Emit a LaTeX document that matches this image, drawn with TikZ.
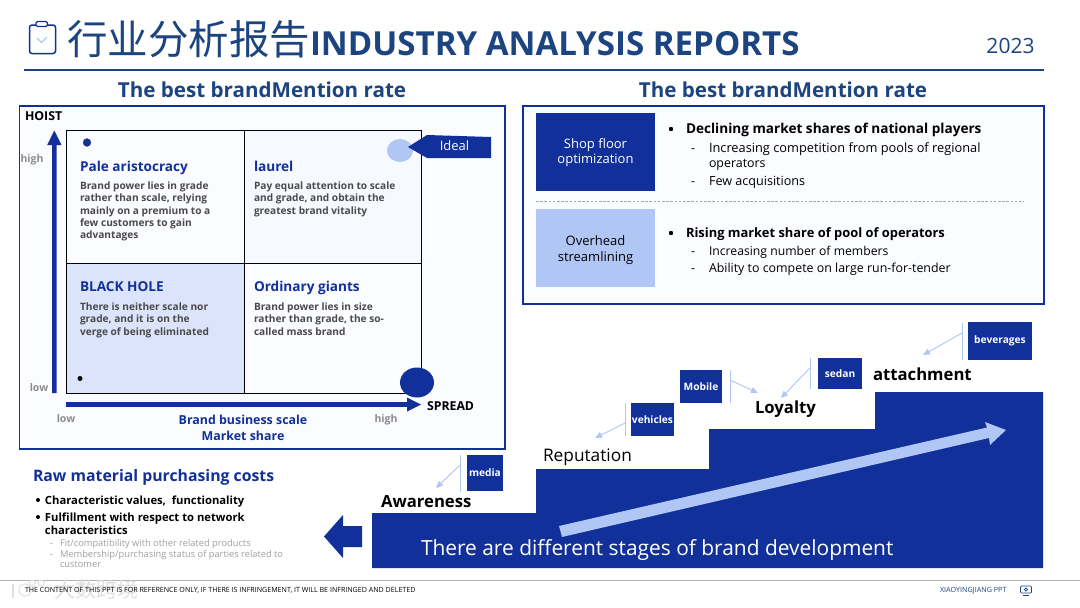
\documentclass[tikz,border=0pt]{standalone}
\usepackage{fontspec}
\setmainfont{Open Sans}
\newfontfamily\cjkfont{Noto Sans CJK SC}
\usetikzlibrary{arrows.meta}
\definecolor{navy}{HTML}{11309A}
\definecolor{titleblue}{HTML}{1C4480}
\definecolor{lightblue}{HTML}{B0C6F5}
\definecolor{panelbg}{HTML}{FBFCFF}
\definecolor{qlow}{HTML}{DCE4FB}
\definecolor{qhigh}{HTML}{F6F9FF}
\definecolor{bodygray}{HTML}{4A4A4A}
\definecolor{axisgray}{HTML}{8C8C8C}
\definecolor{subgray}{HTML}{A0A0A0}
\newcommand\fz[2]{\fontsize{#1}{#2}\selectfont}
\tikzset{
  x=1pt,y=-1pt,
  txt/.style={inner sep=0pt,outer sep=0pt,anchor=base west,align=left},
  ctr/.style={inner sep=0pt,outer sep=0pt,anchor=base,align=center},
  panel/.style={draw=navy,line width=1.8pt,fill=panelbg},
  section/.style={ctr,font=\fz{20.6}{26}\bfseries,text=titleblue},
  qtitle/.style={txt,font=\fz{13.6}{17}\bfseries,text=navy},
  qbody/.style={txt,font=\fz{10.15}{12.25}\bfseries,text=bodygray},
  axislab/.style={ctr,font=\fz{10.5}{13}\bfseries,text=axisgray},
  blacklab/.style={txt,font=\fz{12.3}{14}\bfseries,text=black},
  bigbul/.style={txt,font=\fz{13.2}{16}\bfseries,text=black},
  subbul/.style={txt,font=\fz{12.4}{15},text=black},
  stage/.style={txt,font=\fz{16.7}{21}\bfseries,text=black},
  tag/.style={inner sep=0pt,anchor=center,fill=navy,text=white,font=\fz{10.2}{13}\bfseries},
  leader/.style={draw=lightblue,line width=0.9pt},
  pointer/.style={draw=lightblue,line width=0.9pt,-{Triangle[length=7pt,width=6pt]}},
}
\begin{document}
\begin{tikzpicture}
\useasboundingbox (0,0) rectangle (1080,608);
\fill[white] (0,0) rectangle (1080,608);

% header
\draw[navy,line width=1.5pt,rounded corners=2.5pt] (29.5,25) rectangle (55.5,53.5);
\draw[navy,line width=1.4pt,fill=white,rounded corners=1.5pt] (36,21.5) rectangle (47.5,26.5);
\draw[lightblue,line width=1.1pt] (37,38) -- (41.5,42.5) -- (47,37);
\node[txt,font=\cjkfont\fz{40.5}{44},text=titleblue] (titlecn) at (67,54) {行业分析报告};
\node[txt,font=\fz{33.1}{38}\bfseries,text=titleblue] (titleen) at (310,55) {INDUSTRY ANALYSIS REPORTS};
\node[ctr,font=\fz{21}{25},text=titleblue] (year) at (1010.5,53) {2023};
\draw[titleblue,line width=2.4pt] (24,70) -- (1044,70);

\node[section] (secl) at (262,97) {The best brandMention rate};
\node[section] (secr) at (783,97) {The best brandMention rate};

% left panel
\draw[panel] (19.5,106) rectangle (505,449);
\fill[qlow] (66,263) rectangle (244,393);
\fill[qhigh] (244,130) rectangle (421,263);
\draw[black,line width=0.9pt] (66,130) rectangle (421,393);
\draw[black,line width=0.9pt] (244,130) -- (244,393);
\draw[black,line width=0.9pt] (66,263) -- (421,263);

\fill[navy] (52,393) -- (56.5,393) -- (56.5,145) -- (61.5,145) -- (54.3,130.5) -- (47.2,145) -- (52,145) -- cycle;
\fill[navy] (66,402.2) -- (407,402.2) -- (407,397.5) -- (421,404.5) -- (407,411.5) -- (407,406.8) -- (66,406.8) -- cycle;

\node[blacklab] (hoist) at (25,120.5) {HOIST};
\node[axislab] (yhigh) at (32,162) {high};
\node[axislab] (ylow) at (39,391.5) {low};
\node[axislab] (xlow) at (66,422) {low};
\node[axislab] (xhigh) at (386,422) {high};
\node[blacklab] (spread) at (427,410.5) {SPREAD};
\node[ctr,font=\fz{12.4}{16}\bfseries,text=navy] (xname1) at (243,424.5) {Brand business scale};
\node[ctr,font=\fz{12.4}{16}\bfseries,text=navy] (xname2) at (243,440.5) {Market share};

\node[qtitle] (q1t) at (80,171) {Pale aristocracy};
\node[qbody] (q1b) at (80,238.6) {Brand power lies in grade\\rather than scale, relying\\mainly on a premium to a\\few customers to gain\\advantages};
\node[qtitle] (q2t) at (254,171) {laurel};
\node[qbody] (q2b) at (254,214.2) {Pay equal attention to scale\\and grade, and obtain the\\greatest brand vitality};
\node[qtitle] (q3t) at (80,291.7) {BLACK HOLE};
\node[qbody] (q3b) at (80,335.2) {There is neither scale nor\\grade, and it is on the\\verge of being eliminated};
\node[qtitle] (q4t) at (254,291.7) {Ordinary giants};
\node[qbody] (q4b) at (254,335.2) {Brand power lies in size\\rather than grade, the so-\\called mass brand};

\fill[navy,draw=black!70,line width=0.3pt] (87,142.5) circle (4);
\fill[black] (80,378.5) circle (2.5);
\fill[navy] (417,382.5) ellipse (17 and 15);
\fill[lightblue] (400,150.5) ellipse (13 and 11.5);
\fill[navy] (408,147) -- (427,135) -- (491,137) -- (491,158) -- (427,158) -- cycle;
\node[ctr,font=\fz{13}{16},text=white] (ideal) at (454.5,150.5) {Ideal};

% right panel
\draw[panel] (523,106) rectangle (1044,304);
\node[inner sep=0pt,fill=navy,minimum width=119pt,minimum height=78pt] (shop) at (595.5,152) {};
\node[inner sep=0pt,fill=lightblue,minimum width=119pt,minimum height=78pt] (over) at (595.5,248) {};
\node[ctr,text=white,font=\fz{13}{15}] (shop1) at (595.5,148.7) {Shop floor};
\node[ctr,text=white,font=\fz{13}{15}] (shop2) at (595.5,163.7) {optimization};
\node[ctr,text=black,font=\fz{13}{15}] (over1) at (595.5,245.7) {Overhead};
\node[ctr,text=black,font=\fz{13}{15}] (over2) at (595.5,261) {streamlining};
\draw[black!35,line width=1pt,dash pattern=on 2.6pt off 1.6pt] (536,201) -- (1024,201);

\fill[black] (671,129) circle (2.2);
\node[bigbul,font=\fz{13.6}{16}\bfseries] (b1) at (686,133.3) {Declining market shares of national players};
\node[subbul] (b1a) at (691,152.3) {-};
\node[subbul,font=\fz{12.8}{15}] (b1at) at (709,152.3) {Increasing competition from pools of regional};
\node[subbul] (b1at2) at (709,167.3) {operators};
\node[subbul] (b1b) at (691,185) {-};
\node[subbul,font=\fz{12.6}{15}] (b1bt) at (709,185) {Few acquisitions};
\fill[black] (671,233) circle (2.2);
\node[bigbul,font=\fz{12.9}{16}\bfseries] (b2) at (686,237.3) {Rising market share of pool of operators};
\node[subbul] (b2a) at (691,255) {-};
\node[subbul,font=\fz{12.2}{15}] (b2at) at (709,255) {Increasing number of members};
\node[subbul] (b2b) at (691,272.3) {-};
\node[subbul] (b2bt) at (709,272.3) {Ability to compete on large run-for-tender};

% raw material
\node[txt,font=\fz{15.8}{20}\bfseries,text=navy] (raw) at (33,481.7) {Raw material purchasing costs};
\fill[black] (38,500) circle (2);
\node[txt,font=\fz{11.25}{14}\bfseries] (r1) at (45,504.3) {Characteristic values,\ \ functionality};
\fill[black] (38,517) circle (2);
\node[txt,font=\fz{11.25}{14}\bfseries] (r2) at (45,521) {Fulfillment with respect to network};
\node[txt,font=\fz{11.25}{14}\bfseries] (r2b) at (45,534.3) {characteristics};
\node[txt,font=\fz{9.3}{11},text=subgray] (r3a) at (50,546) {-};
\node[txt,font=\fz{9.3}{11},text=subgray] (r3) at (60,546) {Fit/compatibility with other related products};
\node[txt,font=\fz{9.3}{11},text=subgray] (r4a) at (50,557) {-};
\node[txt,font=\fz{9.3}{11},text=subgray] (r4) at (60,557) {Membership/purchasing status of parties related to};
\node[txt,font=\fz{9.3}{11},text=subgray] (r4b) at (60,567.5) {customer};
\fill[navy] (324,536.5) -- (343,515) -- (343,526) -- (362,526) -- (362,547) -- (343,547) -- (343,558) -- cycle;

% staircase
\fill[navy] (372,568) -- (372,513) -- (536,513) -- (536,469) -- (709,469) -- (709,429) -- (875,429) -- (875,392) -- (1043,392) -- (1043,568) -- cycle;
\fill[lightblue] (559,526) -- (987,427.5) -- (985,422) -- (1006,430) -- (990,445) -- (989,438) -- (562,537) -- cycle;
\node[txt,font=\fz{20.9}{26},text=white] (devtext) at (421,555) {There are different stages of brand development};

\node[stage] (aware) at (381,507.7) {Awareness};
\node[stage,font=\fz{17.3}{21}] (rep) at (543,461) {Reputation};
\node[stage] (loyal) at (755,413) {Loyalty};
\node[stage] (attach) at (873,380) {attachment};

\node[tag,minimum width=36pt,minimum height=36pt] (media) at (485,473) {media};
\node[tag,minimum width=43pt,minimum height=33pt] (vehicles) at (652.5,419.5) {vehicles};
\node[tag,minimum width=42pt,minimum height=33pt] (mobile) at (701,386.5) {Mobile};
\node[tag,minimum width=44pt,minimum height=31pt] (sedan) at (840,373.5) {sedan};
\node[tag,minimum width=64pt,minimum height=38pt] (bev) at (1000,341) {beverages};

\coordinate (mt) at (460,455); \coordinate (mb) at (460,492); \coordinate (mf) at (460,465); \coordinate (mh) at (436,488);
\draw[leader] (mt) -- (mb); \draw[pointer] (mf) -- (mh);
\coordinate (vt) at (625,403); \coordinate (vb) at (625,436); \coordinate (vf) at (625,423); \coordinate (vh) at (595,438);
\draw[leader] (vt) -- (vb); \draw[pointer] (vf) -- (vh);
\coordinate (ot) at (730,370); \coordinate (ob) at (730,403); \coordinate (of) at (730,380); \coordinate (oh) at (758,393);
\draw[leader] (ot) -- (ob); \draw[pointer] (of) -- (oh);
\coordinate (st) at (810,358); \coordinate (sb) at (810,389); \coordinate (sf) at (810,368); \coordinate (sh) at (781,398);
\draw[leader] (st) -- (sb); \draw[pointer] (sf) -- (sh);
\coordinate (bt) at (962,323); \coordinate (bb) at (962,360); \coordinate (bf) at (962,333); \coordinate (bh) at (923,355);
\draw[leader] (bt) -- (bb); \draw[pointer] (bf) -- (bh);

% footer
\draw[black!30,line width=0.9pt] (0,580) -- (1080,580);
\draw[black!12,line width=1.6pt] (13,584) -- (13,598);
\draw[black!12,line width=1pt] (25,590) circle (6);
\draw[black!12,line width=1pt] (32,583) circle (3) (41,583) circle (3);
\node[ctr,font=\cjkfont\fz{21}{24},text=black!12] (wm) at (96,597.5) {大数跨境};
\node[txt,font=\fz{7.1}{8},text=black] (foot) at (25,592.5) {THE CONTENT OF THIS PPT IS FOR REFERENCE ONLY, IF THERE IS INFRINGEMENT, IT WILL BE INFRINGED AND DELETED};
\node[txt,font=\fz{7.2}{8},text=titleblue] (brand) at (940,592.5) {XIAOYINGJIANG PPT};
\draw[titleblue,line width=0.7pt,rounded corners=1pt] (1020.5,586) rectangle (1031.5,593);
\draw[titleblue,line width=0.7pt] (1026,589.5) circle (1.6);
\draw[titleblue,line width=0.7pt] (1023,595) -- (1029,595);
\end{tikzpicture}
\end{document}
